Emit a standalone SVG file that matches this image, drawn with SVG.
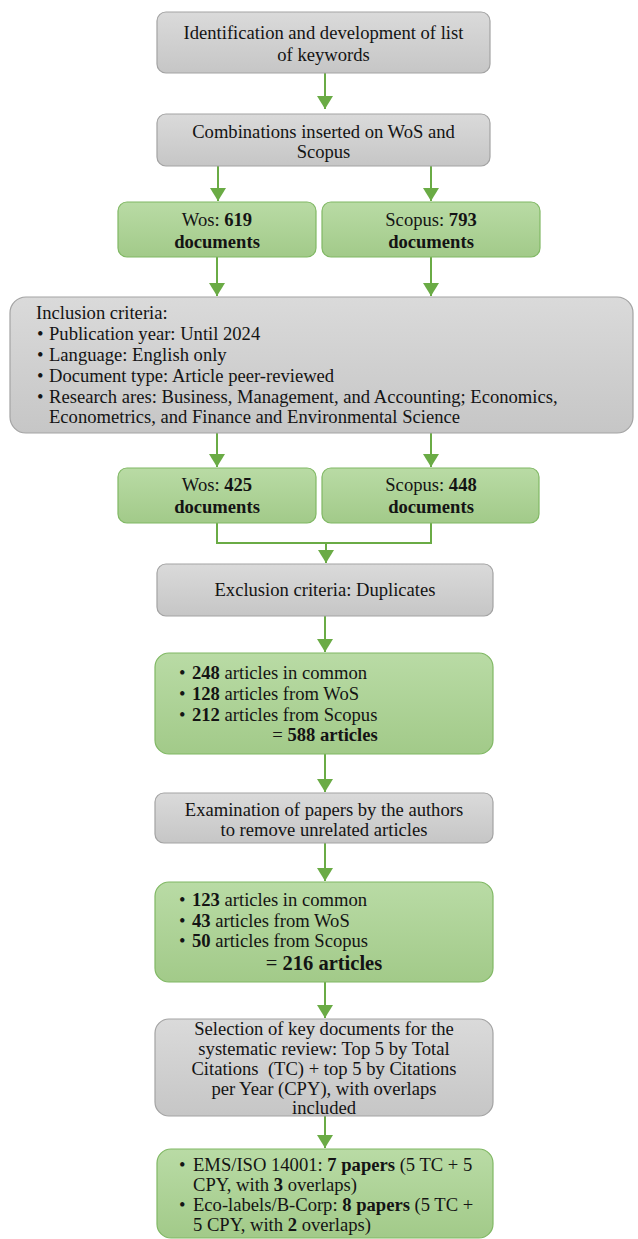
<svg xmlns="http://www.w3.org/2000/svg" width="638" height="1239" viewBox="0 0 638 1239">
<defs>
<linearGradient id="gGray" x1="0" y1="0" x2="0" y2="1">
<stop offset="0" stop-color="#dadada"/>
<stop offset="1" stop-color="#c6c6c6"/>
</linearGradient>
<linearGradient id="gGreen" x1="0" y1="0" x2="0" y2="1">
<stop offset="0" stop-color="#b9dba5"/>
<stop offset="1" stop-color="#a2ca89"/>
</linearGradient>
<marker id="ah" markerUnits="userSpaceOnUse" markerWidth="15" markerHeight="18" refX="13" refY="8" orient="auto">
<path d="M0,0 L13,8 L0,16 Z" fill="#6aab45"/>
</marker>
<style>
.gray{fill:url(#gGray);stroke:#a3a3a3;stroke-width:1.2}
.green{fill:url(#gGreen);stroke:#80b864;stroke-width:1.2}
text{font-family:"Liberation Serif","Times New Roman",serif;font-size:18.6px;fill:#141414}
.c{text-anchor:middle}
.b{font-weight:bold}
.big{font-size:20.5px}
.con{fill:none;stroke:#6aab45;stroke-width:2}
</style>
</defs>
<rect width="638" height="1239" fill="#ffffff"/>

<g id="connectors">
<line class="con" x1="325" y1="73" x2="325" y2="109" marker-end="url(#ah)"/>
<line class="con" x1="218" y1="166" x2="218" y2="201" marker-end="url(#ah)"/>
<line class="con" x1="431" y1="166" x2="431" y2="201" marker-end="url(#ah)"/>
<line class="con" x1="217" y1="257" x2="217" y2="296" marker-end="url(#ah)"/>
<line class="con" x1="431" y1="257" x2="431" y2="296" marker-end="url(#ah)"/>
<line class="con" x1="217" y1="433" x2="217" y2="467" marker-end="url(#ah)"/>
<line class="con" x1="431" y1="433" x2="431" y2="467" marker-end="url(#ah)"/>
<path class="con" d="M217,523 V543 H431 V523"/>
<line class="con" x1="326" y1="543" x2="326" y2="563" marker-end="url(#ah)"/>
<line class="con" x1="325" y1="616" x2="325" y2="652" marker-end="url(#ah)"/>
<line class="con" x1="325" y1="754" x2="325" y2="792" marker-end="url(#ah)"/>
<line class="con" x1="325" y1="843" x2="325" y2="881" marker-end="url(#ah)"/>
<line class="con" x1="325" y1="982" x2="325" y2="1018" marker-end="url(#ah)"/>
<line class="con" x1="325" y1="1116" x2="325" y2="1148" marker-end="url(#ah)"/>
</g>

<g id="n1">
<rect class="gray" x="157" y="12" width="333" height="61" rx="9"/>
<text class="c" x="323.5" y="39">Identification and development of list</text>
<text class="c" x="323.5" y="61">of keywords</text>
</g>

<g id="n2">
<rect class="gray" x="157" y="114" width="333" height="52" rx="9"/>
<text class="c" x="323.5" y="138">Combinations inserted on WoS and</text>
<text class="c" x="323.5" y="158">Scopus</text>
</g>

<g id="n3">
<rect class="green" x="118" y="202" width="198" height="55" rx="9"/>
<text class="c" x="217" y="226">Wos: <tspan class="b">619</tspan></text>
<text class="c b" x="217" y="248">documents</text>
</g>

<g id="n4">
<rect class="green" x="322" y="202" width="218" height="55" rx="9"/>
<text class="c" x="431" y="226">Scopus: <tspan class="b">793</tspan></text>
<text class="c b" x="431" y="248">documents</text>
</g>

<g id="n5">
<rect class="gray" x="10" y="297" width="623" height="136" rx="16"/>
<text x="36" y="319">Inclusion criteria:</text>
<text x="37" y="340">•</text><text x="49" y="340">Publication year: Until 2024</text>
<text x="37" y="361">•</text><text x="49" y="361">Language: English only</text>
<text x="37" y="382">•</text><text x="49" y="382">Document type: Article peer-reviewed</text>
<text x="37" y="403">•</text><text x="49" y="403">Research ares: Business, Management, and Accounting; Economics,</text>
<text x="49" y="423">Econometrics, and Finance and Environmental Science</text>
</g>

<g id="n6">
<rect class="green" x="118" y="468" width="198" height="55" rx="9"/>
<text class="c" x="217" y="491">Wos: <tspan class="b">425</tspan></text>
<text class="c b" x="217" y="513">documents</text>
</g>

<g id="n7">
<rect class="green" x="322" y="468" width="217" height="55" rx="9"/>
<text class="c" x="431" y="491">Scopus: <tspan class="b">448</tspan></text>
<text class="c b" x="431" y="513">documents</text>
</g>

<g id="n8">
<rect class="gray" x="157" y="564" width="336" height="52" rx="9"/>
<text class="c" x="325" y="596">Exclusion criteria: Duplicates</text>
</g>

<g id="n9">
<rect class="green" x="155" y="653" width="338" height="101" rx="14"/>
<text x="179" y="679">•</text><text x="192" y="679"><tspan class="b">248</tspan> articles in common</text>
<text x="179" y="700">•</text><text x="192" y="700"><tspan class="b">128</tspan> articles from WoS</text>
<text x="179" y="721">•</text><text x="192" y="721"><tspan class="b">212</tspan> articles from Scopus</text>
<text class="c" x="325" y="741">= <tspan class="b">588 articles</tspan></text>
</g>

<g id="n10">
<rect class="gray" x="155" y="793" width="338" height="50" rx="9"/>
<text class="c" x="324" y="816">Examination of papers by the authors</text>
<text class="c" x="324" y="836">to remove unrelated articles</text>
</g>

<g id="n11">
<rect class="green" x="155" y="882" width="338" height="100" rx="14"/>
<text x="179" y="906">•</text><text x="192" y="906"><tspan class="b">123</tspan> articles in common</text>
<text x="179" y="927">•</text><text x="192" y="927"><tspan class="b">43</tspan> articles from WoS</text>
<text x="179" y="947">•</text><text x="192" y="947"><tspan class="b">50</tspan> articles from Scopus</text>
<text class="c big" x="324" y="970">= <tspan class="b">216 articles</tspan></text>
</g>

<g id="n12">
<rect class="gray" x="155" y="1019" width="338" height="97" rx="14"/>
<text class="c" x="324" y="1035">Selection of key documents for the</text>
<text class="c" x="324" y="1055">systematic review: Top 5 by Total</text>
<text class="c" x="324" y="1075" xml:space="preserve">Citations  (TC) + top 5 by Citations</text>
<text class="c" x="324" y="1095">per Year (CPY), with overlaps</text>
<text class="c" x="324" y="1114">included</text>
</g>

<g id="n13">
<rect class="green" x="157" y="1149" width="336" height="89" rx="14"/>
<text x="179" y="1171">•</text><text x="193" y="1171">EMS/ISO 14001: <tspan class="b">7 papers</tspan> (5 TC + 5</text>
<text x="193" y="1191">CPY, with <tspan class="b">3</tspan> overlaps)</text>
<text x="179" y="1211">•</text><text x="193" y="1211">Eco-labels/B-Corp: <tspan class="b">8 papers</tspan> (5 TC +</text>
<text x="193" y="1231">5 CPY, with <tspan class="b">2</tspan> overlaps)</text>
</g>
</svg>
